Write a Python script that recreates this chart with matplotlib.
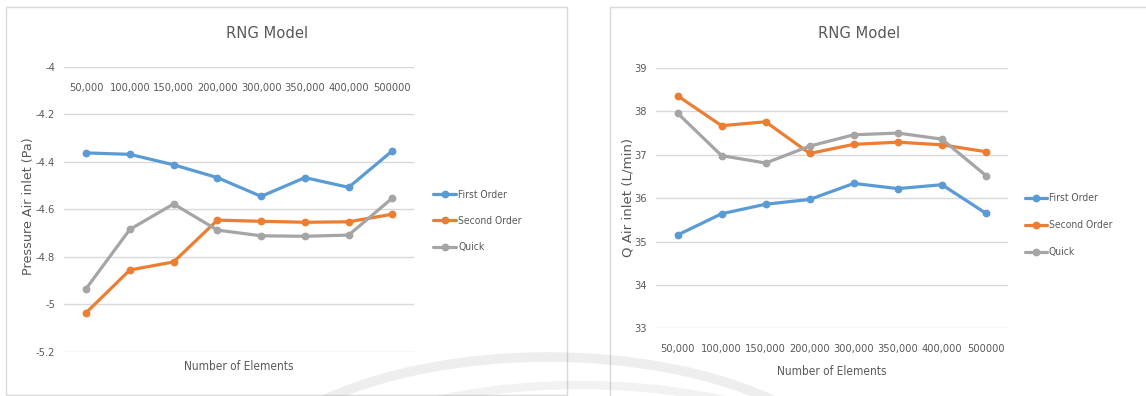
import matplotlib
matplotlib.use("Agg")
import matplotlib.pyplot as plt
from matplotlib.patches import Rectangle, Arc
from matplotlib import font_manager as fm

# ---- data -------------------------------------------------------------
elements = ["50,000", "100,000", "150,000", "200,000",
            "300,000", "350,000", "400,000", "500000"]

pressure_first = [-4.363, -4.369, -4.413, -4.467, -4.546, -4.467, -4.508, -4.354]
pressure_second = [-5.036, -4.856, -4.822, -4.646, -4.651, -4.655, -4.653, -4.621]
pressure_quick = [-4.935, -4.685, -4.578, -4.688, -4.712, -4.714, -4.709, -4.553]

flow_first = [35.15, 35.64, 35.86, 35.97, 36.34, 36.22, 36.31, 35.65]
flow_second = [38.36, 37.67, 37.76, 37.03, 37.24, 37.29, 37.23, 37.07]
flow_quick = [37.96, 36.98, 36.81, 37.20, 37.46, 37.50, 37.36, 36.52]

series_names = ["First Order", "Second Order", "Quick"]
series_colors = ["#5B9BD5", "#ED7D31", "#A5A5A5"]

pressure_ticks = [-5.2, -5.0, -4.8, -4.6, -4.4, -4.2, -4.0]
pressure_tick_labels = ["-5.2", "-5", "-4.8", "-4.6", "-4.4", "-4.2", "-4"]
flow_ticks = [33, 34, 35, 36, 37, 38, 39]

# ---- styling ----------------------------------------------------------
W, H = 1146, 396
TEXT = "#595959"
GRID = "#d9d9d9"

# a condensed face for the chart text, if one is installed
cond_files = [f.fname for f in fm.fontManager.ttflist
              if f.name == "DejaVu Sans" and f.stretch == "condensed"
              and f.style == "normal" and f.weight in (400, "normal")]
if cond_files:
    def body(size):
        return fm.FontProperties(fname=cond_files[0], size=size)
else:
    def body(size):
        return fm.FontProperties(family="Lato", size=size * 0.9)

fig = plt.figure(figsize=(W / 100, H / 100), dpi=100)
fig.patch.set_facecolor("white")


def px_box(x0, y_top, x1, y_bottom):
    """Convert a pixel box (origin top-left) to figure fractions."""
    return [x0 / W, (H - y_bottom) / H, (x1 - x0) / W, (y_bottom - y_top) / H]


def style_axes(ax):
    for s in ax.spines.values():
        s.set_visible(False)
    ax.grid(axis="y", color=GRID, linewidth=1.0)
    ax.set_axisbelow(True)
    ax.tick_params(axis="both", length=0, colors=TEXT)
    for lbl in ax.get_xticklabels() + ax.get_yticklabels():
        lbl.set_fontproperties(body(7.9))
        lbl.set_color(TEXT)


def draw_series(ax, values_list):
    x = list(range(len(elements)))
    for vals, name, col in zip(values_list, series_names, series_colors):
        ax.plot(x, vals, color=col, linewidth=2.3, marker="o",
                markersize=4.6, label=name, solid_capstyle="round")


# chart frames
fig.add_artist(Rectangle((6 / W, 1 - 395 / H), (567 - 6) / W, (395 - 7) / H,
                         transform=fig.transFigure, fill=False,
                         edgecolor=GRID, linewidth=1.0))
fig.add_artist(Rectangle((610 / W, 1 - 400 / H), (1150 - 610) / W, (400 - 7) / H,
                         transform=fig.transFigure, fill=False,
                         edgecolor=GRID, linewidth=1.0))

# ---- left: pressure -----------------------------------------------------
ax1 = fig.add_axes(px_box(64.2, 66.7, 414.3, 351.7))
draw_series(ax1, [pressure_first, pressure_second, pressure_quick])
ax1.set_xlim(-0.5, len(elements) - 0.5)
ax1.set_ylim(-5.2, -4.0)
ax1.set_yticks(pressure_ticks)
ax1.set_yticklabels(pressure_tick_labels)
ax1.set_xticks(range(len(elements)))
ax1.set_xticklabels(elements)
ax1.xaxis.tick_top()
ax1.tick_params(axis="x", pad=-18.6)
ax1.tick_params(axis="y", pad=6.5)
style_axes(ax1)
ax1.xaxis.set_label_position("bottom")
ax1.set_xlabel("Number of Elements", fontproperties=body(8.5), color=TEXT)
ax1.xaxis.label.set_va("center")
ax1.xaxis.set_label_coords(0.5, (351.7 - 366) / 285)
ax1.set_ylabel("Pressure Air inlet (Pa)", fontfamily="DejaVu Sans",
               fontsize=9.2, color=TEXT)
ax1.yaxis.label.set_va("center")
ax1.yaxis.set_label_coords((29 - 64.2) / 350.1, (351.7 - 206.5) / 285)
ax1.legend(loc="center left", bbox_to_anchor=((433 - 64.2) / 350.1, (351.7 - 221) / 285),
           frameon=False, borderpad=0, borderaxespad=0, handlelength=2.25,
           handletextpad=0.2, labelspacing=1.57,
           prop=body(7.4), labelcolor=TEXT)
fig.text(267 / W, 1 - 33 / H, "RNG Model", ha="center", va="center",
         fontproperties=body(11.8), color=TEXT)

# ---- right: flow rate -----------------------------------------------------
ax2 = fig.add_axes(px_box(655.5, 68, 1008, 328.3))
draw_series(ax2, [flow_first, flow_second, flow_quick])
ax2.set_xlim(-0.5, len(elements) - 0.5)
ax2.set_ylim(33, 39)
ax2.set_yticks(flow_ticks)
ax2.set_xticks(range(len(elements)))
ax2.set_xticklabels(elements)
ax2.tick_params(axis="x", pad=11.2)
ax2.tick_params(axis="y", pad=6.0)
style_axes(ax2)
ax2.set_xlabel("Number of Elements", fontproperties=body(8.5), color=TEXT)
ax2.xaxis.label.set_va("center")
ax2.xaxis.set_label_coords(0.5, (328.3 - 371.7) / 260.3)
ax2.set_ylabel("Q Air inlet (L/min)", fontfamily="DejaVu Sans",
               fontsize=9.6, color=TEXT)
ax2.yaxis.label.set_va("center")
ax2.yaxis.set_label_coords((628 - 655.5) / 352.5, (328.3 - 197.5) / 260.3)
ax2.legend(loc="center left", bbox_to_anchor=((1025 - 655.5) / 352.5, (328.3 - 225.3) / 260.3),
           frameon=False, borderpad=0, borderaxespad=0, handlelength=2.1,
           handletextpad=0.2, labelspacing=1.64,
           prop=body(7.4), labelcolor=TEXT)
fig.text(859 / W, 1 - 33 / H, "RNG Model", ha="center", va="center",
         fontproperties=body(11.8), color=TEXT)

# ---- faint watermark arcs across the bottom --------------------------------
overlay = fig.add_axes([0, 0, 1, 1], zorder=10)
overlay.set_xlim(0, W)
overlay.set_ylim(H, 0)
overlay.axis("off")
overlay.patch.set_alpha(0)
overlay.add_patch(Arc((548, 505), 2 * 318, 2 * 148, theta1=180, theta2=360,
                      color="#9a9a9a", alpha=0.16, linewidth=7))
overlay.add_patch(Arc((580, 535), 2 * 330, 2 * 150, theta1=180, theta2=360,
                      color="#9a9a9a", alpha=0.12, linewidth=6))

fig.savefig("out.png", dpi=100, facecolor="white")
